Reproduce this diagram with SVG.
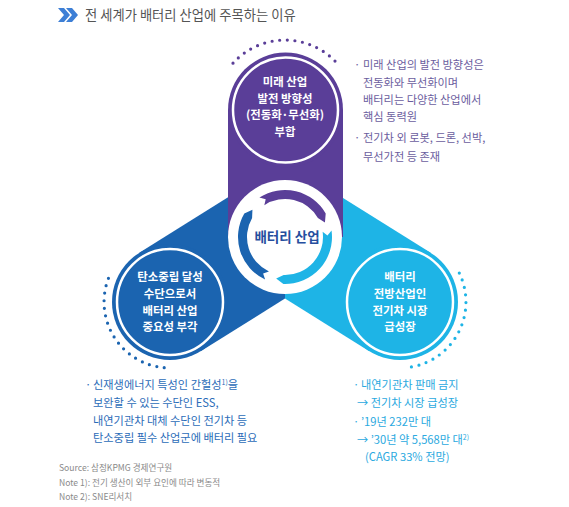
<svg xmlns="http://www.w3.org/2000/svg" width="569" height="507" viewBox="0 0 569 507">
<style>
text{font-family:"Noto Sans CJK KR","Noto Sans",sans-serif}
.ct{font-size:11.4px;font-weight:bold;fill:#fff;text-anchor:middle}
.tr{font-size:11.2px;fill:#6b5d9e}
.lb{font-size:11.2px;fill:#2b6cb8}
.rb{font-size:11.2px;fill:#2aa9e0}
.fn{font-size:8.6px;fill:#8a8a8a}
.ring{fill:none;stroke:#fff;stroke-width:2.5}
.dots{fill:none;stroke-width:3.2;stroke-linecap:round;stroke-dasharray:0 7.6}
</style>
<rect width="569" height="507" fill="#fff"/>
<g id="title">
<path d="M58 8 L64 8 L70 15 L64 22 L58 22 L64 15 Z" fill="#3d7fd6"/>
<path d="M66 8 L72 8 L78 15 L72 22 L66 22 L72 15 Z" fill="#3d7fd6"/>
<text x="85" y="20" font-size="13.3" fill="#555">전 세계가 배터리 산업에 주목하는 이유</text>
</g>
<g id="node-left">
<path d="M139.3 252.8 L285 161.7 L285 298.5 L200.7 351.2 Z" fill="#1b64b0"/>
<circle cx="170" cy="302" r="58" fill="#1b64b0"/>
<circle class="ring" cx="170" cy="302" r="53"/>
<path class="dots" stroke="#1b64b0" d="M164.2 367.7 A66 66 0 0 1 110.7 273.1"/>
<text class="ct" x="170" y="281">탄소중립 달성</text>
<text class="ct" x="170" y="297.8">수단으로서</text>
<text class="ct" x="170" y="314.6">배터리 산업</text>
<text class="ct" x="170" y="331.4">중요성 부각</text>
</g>
<g id="node-right">
<path d="M430.7 252.8 L285 161.7 L285 298.5 L369.3 351.2 Z" fill="#1eb4e6"/>
<circle cx="400" cy="302" r="58" fill="#1eb4e6"/>
<circle class="ring" cx="400" cy="302" r="53"/>
<path class="dots" stroke="#1eb4e6" d="M459.3 273.1 A66 66 0 0 1 405.8 367.7"/>
<text class="ct" x="400" y="281">배터리</text>
<text class="ct" x="400" y="297.8">전방산업인</text>
<text class="ct" x="400" y="314.6">전기차 시장</text>
<text class="ct" x="400" y="331.4">급성장</text>
</g>
<g id="node-top">
<rect x="228" y="110" width="115" height="127" fill="#5a3e98"/>
<circle cx="285.5" cy="110" r="57.5" fill="#5a3e98"/>
<circle class="ring" cx="285.5" cy="110" r="52.5"/>
<path class="dots" stroke="#5a3e98" d="M233 63.2 A70 70 0 0 1 337 63.2"/>
<text class="ct" x="285" y="86">미래 산업</text>
<text class="ct" x="285" y="102.5">발전 방향성</text>
<text class="ct" x="285" y="119">(전동화·무선화)</text>
<text class="ct" x="285" y="135.5">부합</text>
</g>
<g id="node-center">
<circle cx="285" cy="237" r="57" fill="#fff"/>
<g id="connectors">
<path d="M259.4 197.58 A47 47 0 0 1 325.7 213.5 L324.94 222.46 L317.91 218 A38 38 0 0 0 264.31 205.13 L265.7 199.13 Z" fill="#5a3e98"/>
<path d="M331.54 230.46 A47 47 0 0 1 283.36 283.97 L276.16 278.57 L283.67 274.98 A38 38 0 0 0 322.63 231.71 L327.47 235.52 Z" fill="#1eb4e6"/>
<path d="M265.14 279.6 A47 47 0 0 1 244.3 213.5 L252.44 209.68 L252.09 218 A38 38 0 0 0 268.94 271.44 L263.11 273.43 Z" fill="#1b64b0"/>
</g>
<text x="287" y="242" font-size="13.5" font-weight="bold" fill="#264e9e" text-anchor="middle">배터리 산업</text>
</g>
<g id="text-top-right">
<text class="tr" x="354" y="69">·</text>
<text class="tr" x="363" y="69">미래 산업의 발전 방향성은</text>
<text class="tr" x="363" y="87">전동화와 무선화이며</text>
<text class="tr" x="363" y="104">배터리는 다양한 산업에서</text>
<text class="tr" x="363" y="121">핵심 동력원</text>
<text class="tr" x="354" y="142">·</text>
<text class="tr" x="363" y="142">전기차 외 로봇, 드론, 선박,</text>
<text class="tr" x="363" y="161">무선가전 등 존재</text>
</g>
<g id="text-left">
<text class="lb" x="85" y="389">·</text>
<text class="lb" x="93" y="389">신재생에너지 특성인 간헐성<tspan font-size="7" dy="-4">1)</tspan><tspan dy="4">을</tspan></text>
<text class="lb" x="93" y="407">보완할 수 있는 수단인 ESS,</text>
<text class="lb" x="93" y="424.5">내연기관차 대체 수단인 전기차 등</text>
<text class="lb" x="93" y="442">탄소중립 필수 산업군에 배터리 필요</text>
</g>
<g id="text-right">
<text class="rb" x="353" y="389">·</text>
<text class="rb" x="361" y="389">내연기관차 판매 금지</text>
<text class="rb" x="357" y="406.5">→ 전기차 시장 급성장</text>
<text class="rb" x="353" y="426">·</text>
<text class="rb" x="361" y="426">’19년 232만 대</text>
<text class="rb" x="357" y="443.5">→ ’30년 약 5,568만 대<tspan font-size="7" dy="-4">2)</tspan></text>
<text class="rb" x="365" y="461">(CAGR 33% 전망)</text>
</g>
<g id="footnotes">
<text class="fn" x="59" y="471">Source: 삼정KPMG 경제연구원</text>
<text class="fn" x="59" y="486">Note 1): 전기 생산이 외부 요인에 따라 변동적</text>
<text class="fn" x="59" y="500">Note 2): SNE리서치</text>
</g>
</svg>
